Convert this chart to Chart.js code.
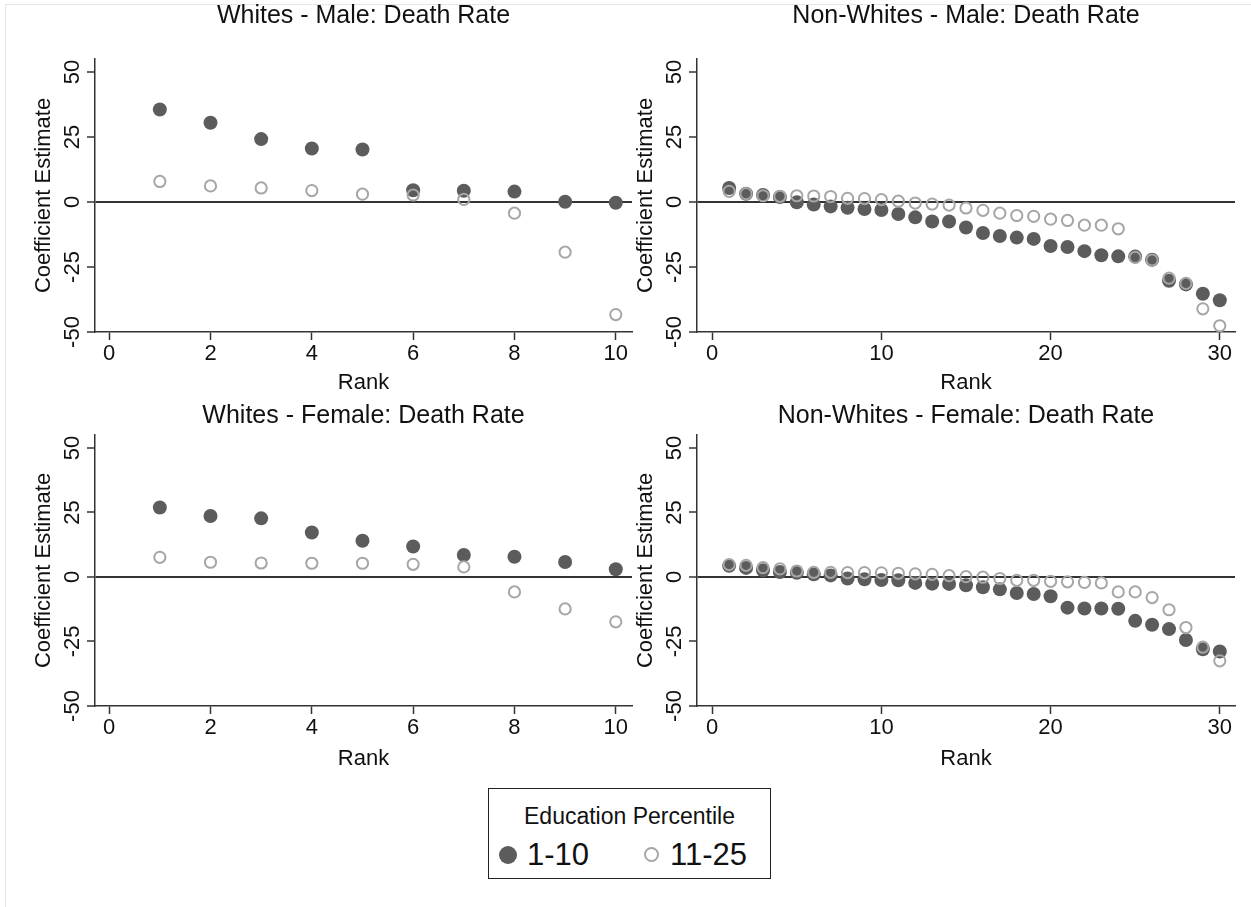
<!DOCTYPE html>
<html>
<head>
<meta charset="utf-8">
<script src="https://cdn.jsdelivr.net/npm/chart.js@4.4.1/dist/chart.umd.min.js"></script>
<style>
html,body{margin:0;padding:0;background:#fff;overflow:hidden;width:1251px;height:907px;}
canvas{position:absolute;}
#frame{position:absolute;left:5px;top:4px;width:1260px;height:920px;border-top:1px solid #e6e6e6;border-left:1px solid #e6e6e6;}
#legend{position:absolute;left:488px;top:788px;width:283px;height:91px;border:1.5px solid #222;font-family:"Liberation Sans",Arial,sans-serif;color:#111;box-sizing:border-box;}
#legend .lt{position:absolute;left:0;top:12px;width:100%;height:30px;line-height:30px;font-size:23px;text-align:center;}
#legend .dot{position:absolute;width:18px;height:18px;border-radius:50%;background:#5c5c5c;left:10px;top:57px;}
#legend .ring{position:absolute;width:11px;height:11px;border-radius:50%;border:2px solid #a6a6a6;left:155px;top:58px;}
#legend .lab{position:absolute;top:47px;height:38px;line-height:38px;font-size:31px;}
</style>
</head>
<body>
<div id="frame"></div>
<canvas id="c1"></canvas>
<canvas id="c2"></canvas>
<canvas id="c3"></canvas>
<canvas id="c4"></canvas>
<div id="legend">
  <div class="lt">Education Percentile</div>
  <div class="dot"></div><div class="lab" style="left:38px;">1-10</div>
  <div class="ring"></div><div class="lab" style="left:181px;">11-25</div>
</div>
<script>
// ---------- data ----------
const ranks10 = [1, 2, 3, 4, 5, 6, 7, 8, 9, 10];
const ranks30 = [1, 2, 3, 4, 5, 6, 7, 8, 9, 10, 11, 12, 13, 14, 15, 16, 17, 18, 19, 20, 21, 22, 23, 24, 25, 26, 27, 28, 29, 30];

const whitesMale_1_10  = [35.6, 30.5, 24.2, 20.6, 20.2, 4.5, 4.3, 4.0, 0.1, -0.3];
const whitesMale_11_25 = [7.9, 6.2, 5.4, 4.4, 3.0, 2.7, 1.0, -4.3, -19.3, -43.3];

const nonWhitesMale_1_10  = [5.4, 3.2, 2.7, 1.9, -0.1, -1.0, -1.7, -2.2, -2.7, -3.1, -4.6, -5.9, -7.5, -7.5, -9.8, -11.9, -13.1, -13.7, -14.2, -16.9, -17.3, -18.9, -20.5, -20.9, -21.0, -22.2, -30.3, -31.7, -35.3, -37.8];
const nonWhitesMale_11_25 = [4.1, 3.2, 2.4, 2.2, 2.4, 2.3, 2.1, 1.4, 1.3, 0.9, 0.3, -0.4, -0.8, -1.2, -2.3, -3.2, -4.3, -5.2, -5.5, -6.6, -7.1, -8.9, -8.9, -10.3, -21.3, -22.3, -29.3, -31.3, -41.1, -47.6];

const whitesFemale_1_10  = [26.9, 23.6, 22.7, 17.2, 14.0, 11.8, 8.5, 7.8, 5.8, 3.0];
const whitesFemale_11_25 = [7.6, 5.7, 5.4, 5.3, 5.3, 4.9, 3.9, -5.8, -12.4, -17.4];

const nonWhitesFemale_1_10  = [4.3, 3.5, 2.6, 1.9, 1.6, 1.0, 0.6, -0.6, -0.9, -1.2, -1.3, -2.3, -2.6, -2.7, -3.2, -4.0, -4.8, -6.2, -6.6, -7.5, -11.9, -12.2, -12.2, -12.3, -17.0, -18.5, -20.2, -24.4, -28.0, -28.9];
const nonWhitesFemale_11_25 = [4.8, 4.5, 3.6, 3.1, 2.3, 1.8, 1.8, 1.7, 1.7, 1.6, 1.4, 1.2, 1.0, 0.5, 0.1, -0.1, -0.6, -1.3, -1.3, -1.7, -1.9, -2.1, -2.3, -5.8, -5.8, -8.0, -12.7, -19.6, -27.2, -32.5];

const yTicks = [-50, -25, 0, 25, 50];
const xTicks10 = [0, 2, 4, 6, 8, 10];
const xTicks30 = [0, 10, 20, 30];

const panelTitles = ["Whites - Male: Death Rate", "Non-Whites - Male: Death Rate", "Whites - Female: Death Rate", "Non-Whites - Female: Death Rate"];
const seriesLabels = ["1-10", "11-25"];
const xTitle = "Rank";
const yTitle = "Coefficient Estimate";

// ---------- drawing ----------
const FONT = "'Liberation Sans', Arial, Helvetica, sans-serif";
const TXT = '#111';
const AX = '#333';
const DARK = '#5c5c5c';
const LIGHT = '#a6a6a6';
const TITLE_SIZE = 25;

function pts(xs, ys) { return xs.map((x, i) => ({x: x, y: ys[i]})); }

function makePanel(id, p) {
  const cv = document.getElementById(id);
  cv.width = p.W; cv.height = p.H;
  cv.style.left = p.left + 'px'; cv.style.top = p.top + 'px';
  cv.style.width = p.W + 'px'; cv.style.height = p.H + 'px';
  const titleLH = TITLE_SIZE * 1.2;
  new Chart(cv, {
    type: 'scatter',
    data: {
      datasets: [
        {label: seriesLabels[0], data: pts(p.xs, p.dark), pointRadius: 7, pointBackgroundColor: DARK, pointBorderColor: DARK, pointBorderWidth: 0, order: 2},
        {label: seriesLabels[1], data: pts(p.xs, p.light), pointRadius: 5.6, pointBackgroundColor: 'rgba(0,0,0,0)', pointBorderColor: LIGHT, pointBorderWidth: 2, order: 1}
      ]
    },
    options: {
      responsive: false, animation: false, devicePixelRatio: 1,
      layout: {padding: 0},
      plugins: {
        legend: {display: false}, tooltip: {enabled: false},
        title: {display: true, text: p.title, color: TXT, font: {family: FONT, size: TITLE_SIZE, weight: 'normal'},
                padding: {top: p.titleTop, bottom: p.plotTop - p.titleTop - titleLH}}
      },
      scales: {
        x: {
          type: 'linear', min: p.xMin, max: p.xMax,
          afterBuildTicks: s => { s.ticks = p.xTicks.map(v => ({value: v})); },
          afterFit: s => { s.height = p.H - p.plotBottom; },
          grid: {drawOnChartArea: false, tickLength: 8, tickColor: AX, tickWidth: 1.5},
          border: {color: AX, width: 1.5},
          ticks: {padding: 1, color: TXT, font: {family: FONT, size: 22}, minRotation: 0, maxRotation: 0, autoSkip: false},
          title: {display: true, text: xTitle, color: TXT, font: {family: FONT, size: 22}, padding: {top: 0, bottom: p.rankPad}}
        },
        y: {
          type: 'linear', position: 'left', min: -50, max: 55,
          afterBuildTicks: s => { s.ticks = yTicks.map(v => ({value: v})); },
          afterFit: s => { s.width = p.plotLeft; },
          grid: {color: c => (c.tick && c.tick.value === 0) ? AX : 'rgba(0,0,0,0)', lineWidth: 2, tickLength: 8, tickColor: AX, tickWidth: 1.5},
          border: {color: AX, width: 1.5},
          ticks: {padding: -2, color: TXT, font: {family: FONT, size: 22}, minRotation: 90, maxRotation: 90, crossAlign: 'center'},
          title: {display: true, text: yTitle, color: TXT, font: {family: FONT, size: 22}, padding: {top: p.yTitleCenter - 13.2, bottom: 0}}
        },
        yPad: {
          type: 'linear', position: 'right', min: -50, max: 55,
          afterFit: s => { s.width = p.W - p.plotRight; },
          grid: {display: false, drawOnChartArea: false},
          border: {display: false},
          ticks: {display: false},
          title: {display: false}
        }
      }
    }
  });
}

makePanel('c1', {left: 0, top: 0, W: 727, H: 395, plotLeft: 95, plotRight: 632, plotTop: 59, plotBottom: 332,
  titleTop: 1, rankPad: -1, yTitleCenter: 44, xMin: -0.28, xMax: 10.32, xTicks: xTicks10,
  title: panelTitles[0], xs: ranks10, dark: whitesMale_1_10, light: whitesMale_11_25});
makePanel('c2', {left: 620, top: 0, W: 692, H: 395, plotLeft: 77, plotRight: 615, plotTop: 59, plotBottom: 332,
  titleTop: 1, rankPad: -1, yTitleCenter: 26, xMin: -0.9, xMax: 30.9, xTicks: xTicks30,
  title: panelTitles[1], xs: ranks30, dark: nonWhitesMale_1_10, light: nonWhitesMale_11_25});
makePanel('c3', {left: 0, top: 380, W: 727, H: 395, plotLeft: 95, plotRight: 632, plotTop: 55, plotBottom: 326,
  titleTop: 21, rankPad: 2.5, yTitleCenter: 44, xMin: -0.28, xMax: 10.32, xTicks: xTicks10,
  title: panelTitles[2], xs: ranks10, dark: whitesFemale_1_10, light: whitesFemale_11_25});
makePanel('c4', {left: 620, top: 380, W: 692, H: 395, plotLeft: 77, plotRight: 615, plotTop: 55, plotBottom: 326,
  titleTop: 21, rankPad: 2.5, yTitleCenter: 26, xMin: -0.9, xMax: 30.9, xTicks: xTicks30,
  title: panelTitles[3], xs: ranks30, dark: nonWhitesFemale_1_10, light: nonWhitesFemale_11_25});
</script>
</body>
</html>
